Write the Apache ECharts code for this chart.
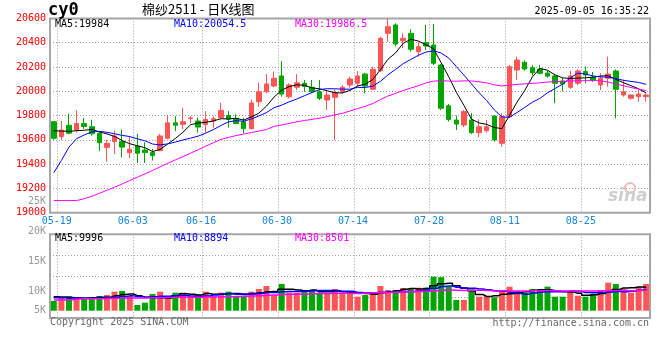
<!DOCTYPE html>
<html><head><meta charset="utf-8">
<script src="https://cdn.jsdelivr.net/npm/echarts@6/dist/echarts.min.js"></script>
<style>html,body{margin:0;padding:0;background:#fff}#c{width:660px;height:360px}</style>
</head><body><div id="c"></div>
<script>
// ---------- data ----------
const dates = ['05-19','05-20','05-21','05-22','05-23','05-26','05-27','05-28','05-29','05-30',
 '06-03','06-04','06-05','06-06','06-09','06-10','06-11','06-12','06-13',
 '06-16','06-17','06-18','06-19','06-20','06-23','06-24','06-25','06-26','06-27',
 '06-30','07-01','07-02','07-03','07-04','07-07','07-08','07-09','07-10','07-11',
 '07-14','07-15','07-16','07-17','07-18','07-21','07-22','07-23','07-24','07-25',
 '07-28','07-29','07-30','07-31','08-01','08-04','08-05','08-06','08-07','08-08',
 '08-11','08-12','08-13','08-14','08-15','08-18','08-19','08-20','08-21','08-22',
 '08-25','08-26','08-27','08-28','08-29','09-01','09-02','09-03','09-04','09-05'];
const opens = [19749,19626,19720,19680,19735,19708,19655,19538,19585,19585,
 19494,19549,19516,19495,19511,19613,19740,19727,19775,19755,
 19727,19755,19782,19800,19773,19749,19692,19914,19996,20043,
 20126,19955,20033,20066,20033,19996,19928,19950,19996,20052,
 20066,20142,20016,20169,20477,20546,20416,20477,20326,20400,
 20381,20216,19880,19763,19722,19763,19659,19675,19796,19571,
 19790,20175,20238,20194,20183,20150,20126,20085,20033,20066,
 20162,20115,20052,20107,20167,19969,19942,19955,19955];
const closes = [19613,19681,19655,19735,19710,19650,19577,19571,19632,19540,
 19522,19490,19495,19470,19632,19740,19720,19749,19780,19705,
 19768,19774,19842,19770,19735,19692,19904,19996,20060,20107,
 19977,20052,20070,20040,19997,19942,19969,19990,20033,20101,
 20126,20043,20181,20436,20532,20389,20436,20346,20367,20373,
 20230,19860,19768,19730,19832,19659,19708,19708,19599,19790,
 20202,20257,20183,20153,20148,20125,20066,20060,20126,20167,
 20134,20093,20107,20142,20016,19996,19969,19977,19969];
const lows = [19600,19600,19645,19660,19690,19635,19510,19420,19483,19455,
 19448,19410,19410,19430,19505,19605,19672,19686,19735,19660,
 19660,19700,19770,19700,19728,19654,19686,19873,19983,20033,
 19955,19942,20010,19996,19983,19928,19846,19598,19980,20030,
 20040,19983,20010,20160,20408,20370,20354,20326,20285,20340,
 20215,19845,19750,19681,19706,19648,19621,19660,19585,19543,
 19780,20093,20170,20130,20140,20110,19901,20000,20020,20050,
 20066,20077,20010,20038,19777,19955,19930,19914,19914];
const highs = [19755,19755,19815,19845,19780,19765,19665,19600,19675,19685,
 19626,19648,19580,19525,19650,19805,19795,19864,19795,19782,
 19836,19795,19905,19836,19810,19782,19930,20070,20142,20162,
 20249,20066,20142,20093,20093,20093,20010,20015,20050,20120,
 20165,20150,20202,20450,20600,20560,20477,20510,20408,20546,
 20555,20225,19895,19800,19846,19820,19769,19763,19804,19820,
 20215,20285,20255,20215,20215,20170,20140,20110,20170,20180,
 20202,20159,20148,20285,20180,20093,19975,20010,19983];
const volumes = [4140,5300,6280,5300,5300,5300,6280,6700,8110,8410,
 6280,2430,3420,7130,8110,5300,7690,7690,6280,6700,
 8110,6280,7690,8110,6280,6280,8110,9270,10550,6700,
 11400,7690,7690,8840,8540,7690,7430,9270,7690,7130,
 5980,6700,7690,10550,8840,8840,9690,9270,9820,9820,
 14520,14300,10250,4570,4570,9140,5980,6280,5720,8110,
 10250,8410,7690,9270,9270,10250,5980,5980,8410,6400,
 5980,7130,8840,11960,11400,9270,7690,10250,11400];
// moving-average values at the left edge (history before the window)
const ma5Head = [19675,19672,19670,19675];
const ma10Head = [19330,19430,19540,19610,19640,19665,19670,19662,19650];
const ma30Head = [19100,19100,19100,19100,19115,19135,19160,19185,19210,19237,19265,19292,19320,19348,19377,19407,19435,19462,19490,19518,19548,19576,19604,19620,19635,19648,19660,19672,19685];
const vma5Head = [5980,5800,5600,5400];
const vma10Head = [5550,5500,5450,5400,5350,5300,5400,5500,5700];
const vma30Head = [4570,4570,4700,5000,5120,5120,5150,5200,5300,5400,5420,5420,5450,5480,5500,5600,5700,5720,5720,5750,5800,5850,5900,5980,6050,6150,6250,6400,6550];
const tickDates = ['05-19','06-03','06-16','06-30','07-14','07-28','08-11','08-25'];
const priceTicks = {min:19000, max:20600, step:200};
const volTicks = {min:5000, max:25000, step:5000};
const maTexts = ['MA5:19984','MA10:20054.5','MA30:19986.5'];
const vmaTexts = ['MA5:9996','MA10:8894','MA30:8501'];
const symbolText = 'cy0';
const titleText = '棉纱2511 - 日K线图';
const timeText = '2025-09-05 16:35:22';
const copyText = 'Copyright 2025 SINA.COM';
const urlText = 'http://finance.sina.com.cn';

// ---------- chart ----------
const UP = '#ff5555', DOWN = '#00a600';
const MONO = '"DejaVu Sans Mono", "Liberation Mono", monospace';
const dotted = {type:[1,2], color:'#9c9c9c', width:1};
const labelSet = new Set(tickDates.map(d => dates.indexOf(d)));
const splitSet = new Set([...labelSet].map(i => i + 1));

function movingAvg(src, n, head) {
  return src.map((_, i) => {
    if (i < n - 1) return head[i];
    let s = 0;
    for (let k = i - n + 1; k <= i; k++) s += src[k];
    return Math.round(s / n * 10) / 10;
  });
}
const kData = dates.map((_, i) => [opens[i], closes[i], lows[i], highs[i]]);
const volData = volumes.map((v, i) => ({value: v, itemStyle: {color: closes[i] >= opens[i] ? UP : DOWN}}));

const L = 50, W = 600;
const chart = echarts.init(document.getElementById('c'));
function catAxis(grid, extra) {
  return Object.assign({type:'category', gridIndex:grid, data:dates, boundaryGap:true,
    axisLine:{show:false}, axisTick:{show:false}, axisLabel:{show:false}, splitLine:{show:false}}, extra || {});
}
chart.setOption({
  animation:false,
  backgroundColor:'#fff',
  grid:[
    {left:L, width:W, top:18.4, height:194.3, show:true, borderColor:'#a8a8a8', borderWidth:2, outerBoundsMode:'none'},
    {left:L, width:W, top:234.3, height:76.4, outerBoundsMode:'none'},
    {left:L, width:W, top:234.3, height:83.7, show:true, borderColor:'#a8a8a8', borderWidth:2, outerBoundsMode:'none'},
    {left:L, width:W, top:201, height:120, outerBoundsMode:'none'}
  ],
  xAxis:[
    catAxis(0, {axisLabel:{show:true, interval:(i)=>labelSet.has(i), color:'#1787d6', fontFamily:MONO, fontSize:10, margin:4, padding:[0,0,0,6]},
      splitLine:{show:true, interval:(i)=>splitSet.has(i), lineStyle:dotted}}),
    catAxis(1),
    catAxis(2, {splitLine:{show:true, interval:(i)=>splitSet.has(i), lineStyle:dotted}}),
    catAxis(3)
  ],
  yAxis:[
    {type:'value', gridIndex:0, min:priceTicks.min, max:priceTicks.max, interval:priceTicks.step,
      axisLine:{show:false}, axisTick:{show:false},
      axisLabel:{color:'#ff0000', fontFamily:MONO, fontSize:10, margin:4, formatter:(v)=>String(v)},
      splitLine:{show:true, lineStyle:dotted}},
    {type:'value', gridIndex:1, min:0, max:32600, show:false},
    {type:'value', gridIndex:2, min:0, max:4, interval:1, axisLine:{show:false}, axisTick:{show:false},
      axisLabel:{show:false}, splitLine:{show:true, lineStyle:dotted}},
    {type:'value', gridIndex:3, min:volTicks.min, max:volTicks.max, interval:volTicks.step,
      axisLine:{show:false}, axisTick:{show:false}, splitLine:{show:false},
      axisLabel:{color:'#9a9a9a', fontFamily:MONO, fontSize:10, margin:4,
        formatter:(v)=> v === volTicks.min ? '{lo|' + (v/1000) + 'K}' : (v/1000) + 'K',
        rich:{lo:{padding:[0,0,22,0], color:'#9a9a9a', fontFamily:MONO, fontSize:10}}}}
  ],
  series:[
    {type:'candlestick', xAxisIndex:0, yAxisIndex:0, data:kData, barWidth:5,
      itemStyle:{color:UP, color0:DOWN, borderColor:UP, borderColor0:DOWN, borderWidth:1}},
    {type:'line', xAxisIndex:0, yAxisIndex:0, data:movingAvg(closes,5,ma5Head), showSymbol:false, lineStyle:{color:'#000', width:1}, z:5},
    {type:'line', xAxisIndex:0, yAxisIndex:0, data:movingAvg(closes,10,ma10Head), showSymbol:false, lineStyle:{color:'#0000ff', width:1}, z:5},
    {type:'line', xAxisIndex:0, yAxisIndex:0, data:movingAvg(closes,30,ma30Head), showSymbol:false, lineStyle:{color:'#ff00ff', width:1}, z:5},
    {type:'bar', xAxisIndex:1, yAxisIndex:1, data:volData, barWidth:6},
    {type:'line', xAxisIndex:1, yAxisIndex:1, data:movingAvg(volumes,5,vma5Head), step:'middle', showSymbol:false, lineStyle:{color:'#000', width:1.5}, z:5},
    {type:'line', xAxisIndex:1, yAxisIndex:1, data:movingAvg(volumes,10,vma10Head), step:'middle', showSymbol:false, lineStyle:{color:'#0000ff', width:1.5}, z:5},
    {type:'line', xAxisIndex:1, yAxisIndex:1, data:movingAvg(volumes,30,vma30Head), step:'middle', showSymbol:false, lineStyle:{color:'#ff00ff', width:1.5}, z:5}
  ],
  graphic:[
    {type:'text', left:48, top:2, style:{text:symbolText, font:'bold 17px ' + MONO, fill:'#000'}},
    {type:'text', left:142, top:3, style:{text:titleText, font:'13px "Noto Sans CJK SC"', fill:'#000'}},
    {type:'text', right:11, top:6, style:{text:timeText, font:'10px ' + MONO, fill:'#000'}},
    {type:'text', left:55, top:19, z:10, style:{text:maTexts[0], font:'10px ' + MONO, fill:'#000'}},
    {type:'text', left:174, top:19, z:10, style:{text:maTexts[1], font:'10px ' + MONO, fill:'#0000ff'}},
    {type:'text', left:295, top:19, z:10, style:{text:maTexts[2], font:'10px ' + MONO, fill:'#ff00ff'}},
    {type:'text', left:55, top:233, z:10, style:{text:vmaTexts[0], font:'10px ' + MONO, fill:'#000'}},
    {type:'text', left:174, top:233, z:10, style:{text:vmaTexts[1], font:'10px ' + MONO, fill:'#0000ff'}},
    {type:'text', left:295, top:233, z:10, style:{text:vmaTexts[2], font:'10px ' + MONO, fill:'#ff00ff'}},
    {type:'text', left:50, top:317, style:{text:copyText, font:'10px ' + MONO, fill:'#6a6a6a'}},
    {type:'text', right:11, top:318, style:{text:urlText, font:'10px ' + MONO, fill:'#6a6a6a'}},
    {type:'circle', shape:{cx:630, cy:188, r:5}, style:{fill:'none', stroke:'#f0b8b8', lineWidth:2}, z:1},
    {type:'text', left:608, top:188, z:1, style:{text:'sina', font:'italic bold 17px "DejaVu Sans"', fill:'#cfcfcf'}}
  ]
});
</script></body></html>
